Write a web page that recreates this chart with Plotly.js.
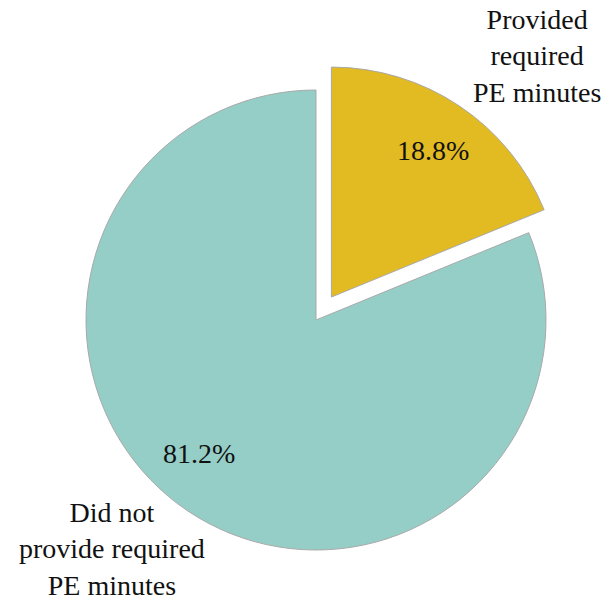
<!DOCTYPE html>
<html>
<head>
<meta charset="utf-8">
<script src="https://cdn.plot.ly/plotly-3.0.1.min.js"></script>
</head>
<body style="margin:0">
<div id="chart" style="width:607px;height:599px"></div>
<script>
var categories = ["Provided<br>required<br>PE minutes", "Did not<br>provide required<br>PE minutes"];
var values = [18.8, 81.2];
var colors = ["#E2BA22", "#95CEC7"];
var pulls = [0.12, 0];

var FONT = "Times New Roman";
var W = 607, H = 599;
var cx = 316, cy = 320, R = 230;
var ext = R * (1 + Math.max.apply(null, pulls));

var trace = {
  type: "pie",
  values: values,
  labels: categories,
  sort: false,
  direction: "clockwise",
  rotation: 0,
  pull: pulls,
  marker: {colors: colors, line: {color: "#a9a9a9", width: 1}},
  textinfo: "none",
  showlegend: false,
  domain: {
    x: [(cx - ext) / W, (cx + ext) / W],
    y: [(H - cy - ext) / H, (H - cy + ext) / H]
  }
};

var total = values.reduce(function (a, b) { return a + b; }, 0);
var labelPos = [[537, 56], [112, 549]];
var pctPos = [[433, 150], [199, 453]];
var annotations = [];
categories.forEach(function (c, i) {
  annotations.push({
    text: c, showarrow: false, xref: "paper", yref: "paper",
    x: labelPos[i][0] / W, y: 1 - labelPos[i][1] / H,
    xanchor: "center", yanchor: "middle", align: "center",
    font: {family: FONT, size: 28, color: "#111111"}
  });
  annotations.push({
    text: (values[i] / total * 100).toFixed(1) + "%", showarrow: false, xref: "paper", yref: "paper",
    x: pctPos[i][0] / W, y: 1 - pctPos[i][1] / H,
    xanchor: "center", yanchor: "middle",
    font: {family: FONT, size: 28, color: "#111111"}
  });
});

var layout = {
  width: W, height: H,
  margin: {l: 0, r: 0, t: 0, b: 0},
  font: {family: FONT},
  annotations: annotations
};
Plotly.newPlot("chart", [trace], layout, {staticPlot: true});
</script>
</body>
</html>
